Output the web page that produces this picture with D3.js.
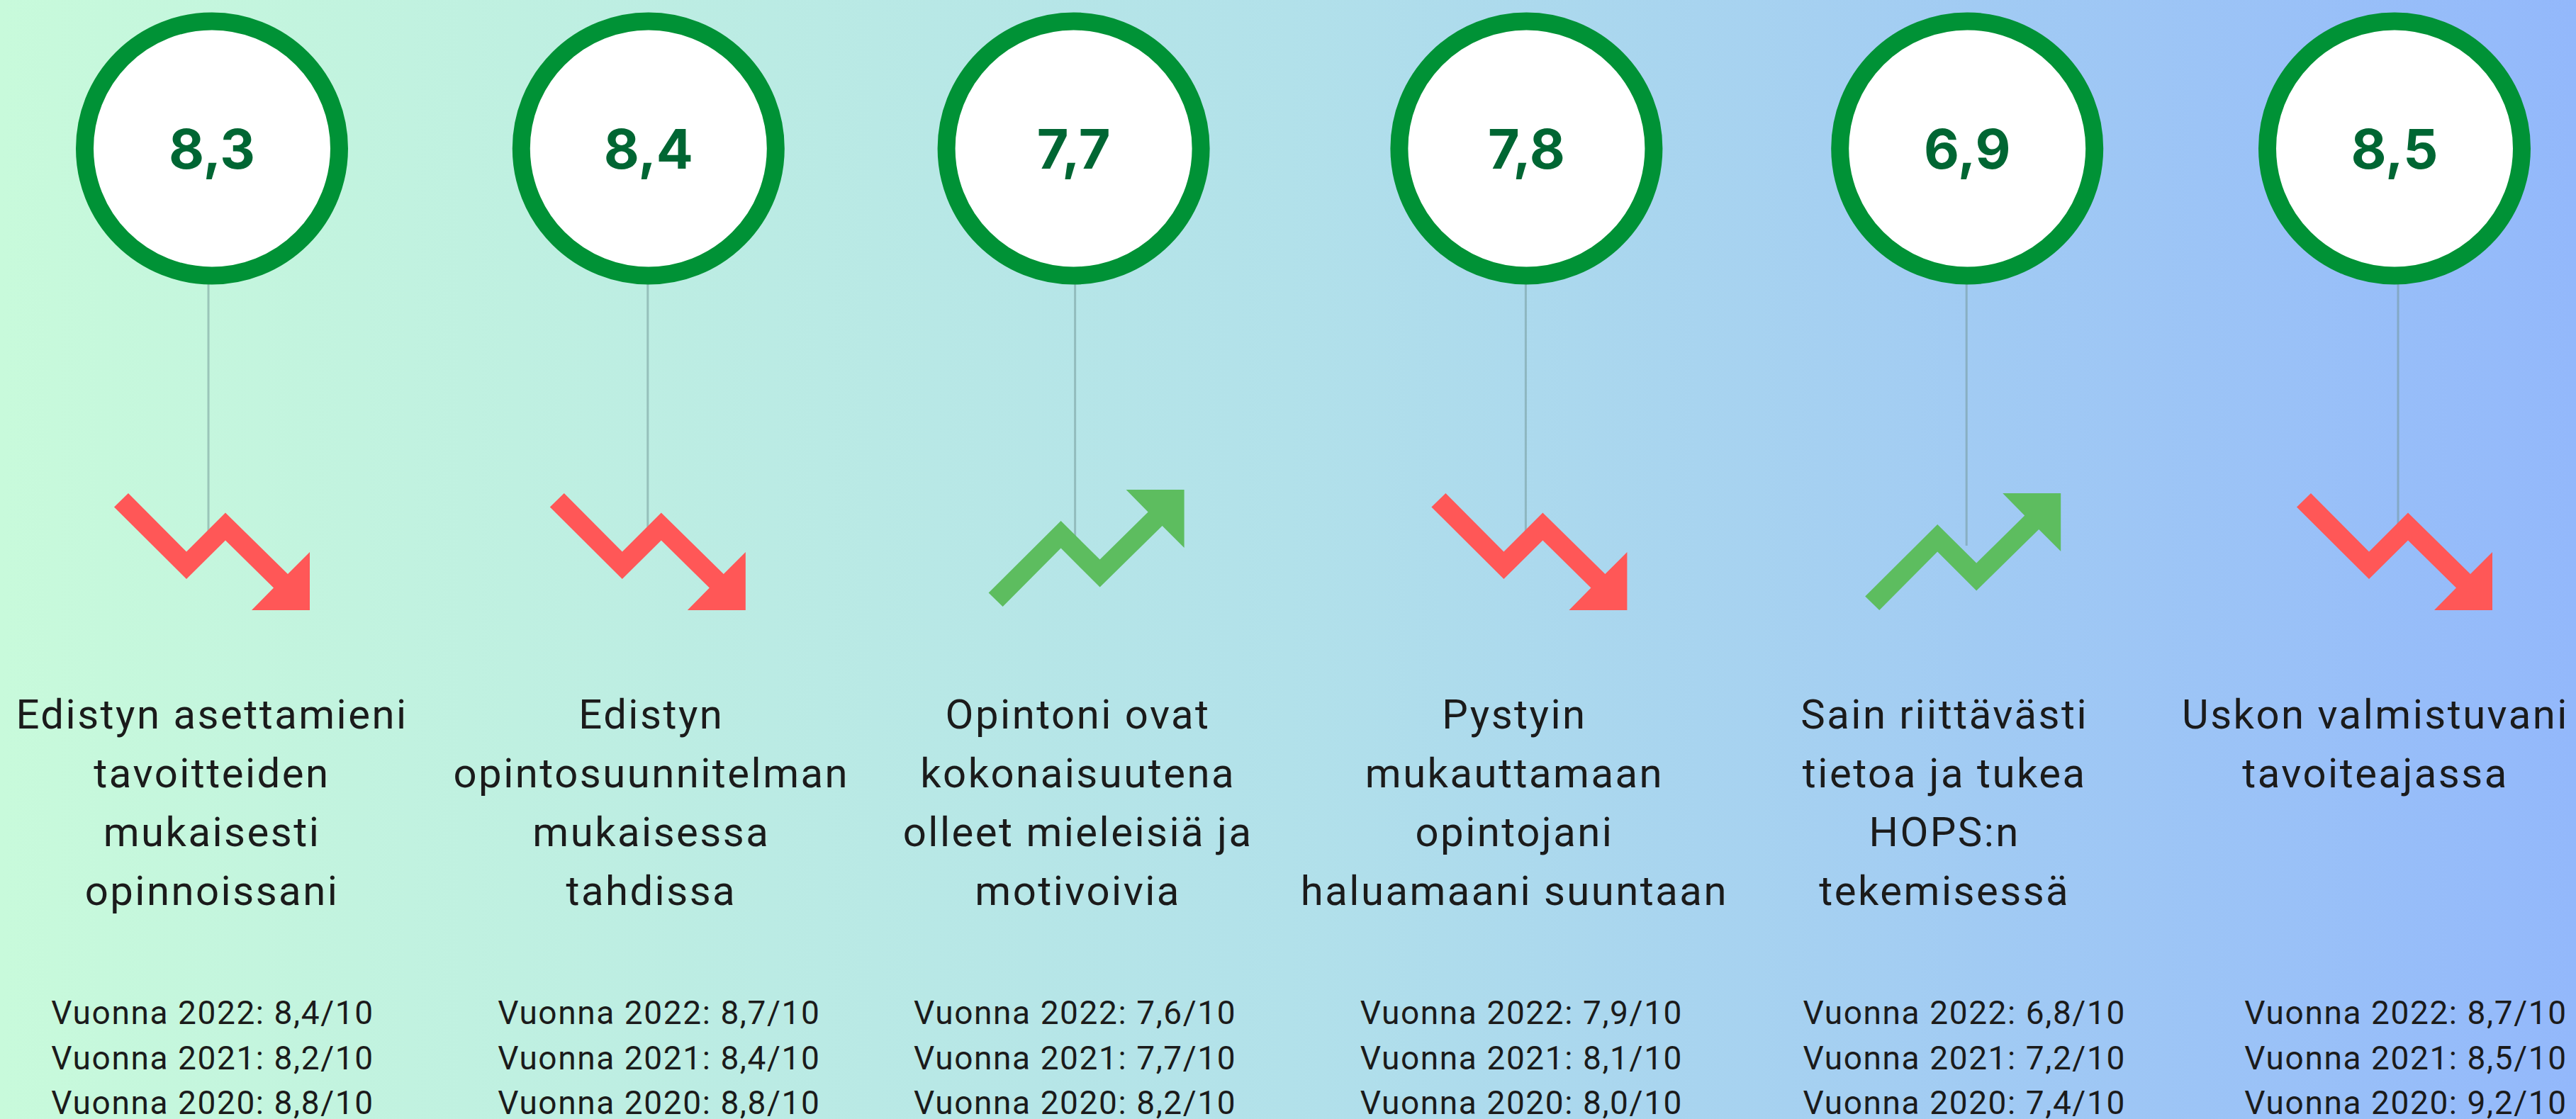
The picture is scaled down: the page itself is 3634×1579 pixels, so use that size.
<!DOCTYPE html>
<html><head><meta charset="utf-8">
<script src="https://cdn.jsdelivr.net/npm/d3@7"></script>
<style>html,body{margin:0;padding:0;overflow:hidden;background:#fff}svg{display:block}</style>
</head><body>
<script>
// ---------- DATA ----------
const categories = [
  "Edistyn asettamieni tavoitteiden mukaisesti opinnoissani",
  "Edistyn opintosuunnitelman mukaisessa tahdissa",
  "Opintoni ovat kokonaisuutena olleet mieleisiä ja motivoivia",
  "Pystyin mukauttamaan opintojani haluamaani suuntaan",
  "Sain riittävästi tietoa ja tukea HOPS:n tekemisessä",
  "Uskon valmistuvani tavoiteajassa"
];
const titleLines = [
  ["Edistyn asettamieni", "tavoitteiden", "mukaisesti", "opinnoissani"],
  ["Edistyn", "opintosuunnitelman", "mukaisessa", "tahdissa"],
  ["Opintoni ovat", "kokonaisuutena", "olleet mieleisiä ja", "motivoivia"],
  ["Pystyin", "mukauttamaan", "opintojani", "haluamaani suuntaan"],
  ["Sain riittävästi", "tietoa ja tukea", "HOPS:n", "tekemisessä"],
  ["Uskon valmistuvani", "tavoiteajassa"]
];
const currentScores = [8.3, 8.4, 7.7, 7.8, 6.9, 8.5];
const scores2022 = [8.4, 8.7, 7.6, 7.9, 6.8, 8.7];
const scores2021 = [8.2, 8.4, 7.7, 8.1, 7.2, 8.5];
const scores2020 = [8.8, 8.8, 8.2, 8.0, 7.4, 9.2];
const yearLabels = ["2022", "2021", "2020"];
const maxScore = 10;

// ---------- LAYOUT (not data) ----------
const W = 3634, H = 1579;
const circleNudge = [0, 0, -16, 7, 13, 0];
const lineNudge   = [-5, -1, -14, 6, 12, 5];
const arrowNudge  = [0, -1, 2, 11, 7, 0];
const arrowDy     = [0, 0, -5, 0, 0, 0];
const titleNudge  = [0, 4, -10, -10, -19, -27];
const statNudge   = [1, 15, -14, 0, 9, 16];

const fmtLocale = d3.formatLocale({decimal: ",", thousands: "\u00a0", grouping: [3], currency: ["", "€"]});
const f1 = fmtLocale.format(".1f");

const svg = d3.select("body").append("svg").attr("width", W).attr("height", H);
const defs = svg.append("defs");
const grad = defs.append("linearGradient").attr("id", "bg")
  .attr("x1", 0).attr("x2", 1).attr("y1", 0).attr("y2", 0);
grad.append("stop").attr("offset", 0).attr("stop-color", "#c8fadb");
grad.append("stop").attr("offset", 0.5).attr("stop-color", "#b2e1ea");
grad.append("stop").attr("offset", 1).attr("stop-color", "#93b8fb");
svg.append("rect").attr("width", W).attr("height", H).attr("fill", "url(#bg)");

const x = d3.scalePoint().domain(categories).range([299, 3378]);

// arrow icon (down-trend glyph, local units)
const arrowShape = [[20,0],[0,19.5],[102,121],[157,66.5],[225,133.5],[194,165],[276,165],[276,83],[245,114],[157,27.5],[102,82.5]];
const arrowPath = d3.line()(arrowShape) + "Z";

const rows = categories.map((c, i) => ({
  cat: c, i, lines: titleLines[i], cur: currentScores[i],
  hist: [scores2022[i], scores2021[i], scores2020[i]],
  up: currentScores[i] > scores2022[i]
}));

const g = svg.selectAll("g.col").data(rows).join("g").attr("class", "col");

// connector lines
g.append("line")
  .attr("x1", d => x(d.cat) + lineNudge[d.i]).attr("x2", d => x(d.cat) + lineNudge[d.i])
  .attr("y1", 400).attr("y2", 770)
  .attr("stroke", "#6f9494").attr("stroke-opacity", 0.5).attr("stroke-width", 3);

// circles
g.append("circle")
  .attr("cx", d => x(d.cat) + circleNudge[d.i]).attr("cy", 209.5).attr("r", 179.5)
  .attr("fill", "#ffffff").attr("stroke", "#009236").attr("stroke-width", 25);

g.append("text")
  .attr("x", d => x(d.cat) + circleNudge[d.i]).attr("y", 237.5)
  .attr("text-anchor", "middle")
  .attr("font-family", "Inter, 'Liberation Sans', sans-serif")
  .attr("font-weight", 700).attr("font-size", 77)
  .attr("fill", "#006633")
  .text(d => f1(d.cur));

// trend arrows
g.append("path")
  .attr("d", arrowPath)
  .attr("fill", d => d.up ? "#5dbd5f" : "#ff5757")
  .attr("transform", d => {
    const left = x(d.cat) - 138 + arrowNudge[d.i];
    const top = 696 + arrowDy[d.i];
    return d.up ? `translate(${left},${top + 165}) scale(1,-1)` : `translate(${left},${top})`;
  });

// titles
g.append("text")
  .attr("text-anchor", "middle")
  .attr("font-family", "Roboto, sans-serif")
  .attr("font-size", 58).attr("letter-spacing", 2.5).attr("fill", "#1b1b1b")
  .selectAll("tspan").data(d => d.lines.map((l, k) => ({l, k, d}))).join("tspan")
  .attr("x", t => x(t.d.cat) + titleNudge[t.d.i])
  .attr("y", t => 1028 + t.k * 83)
  .text(t => t.l);

// history stats
g.append("text")
  .attr("text-anchor", "middle")
  .attr("font-family", "Roboto, sans-serif")
  .attr("font-size", 46).attr("letter-spacing", 1.6).attr("fill", "#1b1b1b")
  .selectAll("tspan").data(d => d.hist.map((v, k) => ({v, k, d}))).join("tspan")
  .attr("x", t => x(t.d.cat) + statNudge[t.d.i])
  .attr("y", t => 1445 + t.k * 63.5)
  .text(t => `Vuonna ${yearLabels[t.k]}: ${f1(t.v)}/${maxScore}`);
</script>
</body></html>
